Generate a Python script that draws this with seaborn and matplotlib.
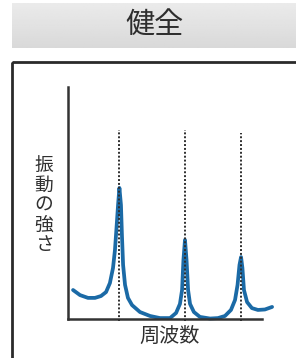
import numpy as np
import pandas as pd
import matplotlib.pyplot as plt
import seaborn as sns
from matplotlib.patches import Rectangle

# spectrum (frequency / vibration strength, arbitrary units 0-100)
freq = [2.6, 6.2, 10.3, 13.9, 17.0, 19.6, 21.6, 23.2, 24.2, 25.0, 25.8, 26.5,
        27.3, 27.8, 28.4, 29.4, 30.9, 33.0, 37.1, 42.3, 47.4, 52.6, 55.7, 57.7,
        58.8, 59.5, 60.3, 61.1, 61.9, 62.9, 64.9, 68.0, 73.2, 77.3, 80.9, 84.0,
        86.1, 87.4, 88.4, 89.2, 89.9, 90.7, 92.3, 94.8, 97.9, 101.5, 105.2]
amp = [12.5, 10.3, 9.1, 9.1, 9.9, 11.6, 15.5, 22.0, 29.7, 39.2, 49.1, 56.5,
       49.1, 36.2, 23.3, 14.7, 9.1, 6.0, 3.0, 1.3, 0.4, 0.4, 2.6, 6.5,
       12.5, 25.4, 34.1, 25.4, 12.5, 6.5, 3.0, 0.9, 0.2, 0.4, 1.3, 3.9,
       8.2, 14.7, 23.3, 26.7, 22.0, 12.5, 7.3, 4.7, 3.9, 4.1, 5.2]
peak_freq = [26.5, 60.3, 89.2]
peak_guide_top = [81.5, 81.5, 80.2]

title = "健全"
ylabel = "振動の強さ"
xlabel = "周波数"

df = pd.DataFrame({"freq": freq, "amp": amp})

sns.set_style("white")
plt.rcParams["font.family"] = ["Noto Sans CJK JP", "DejaVu Sans"]

W, H = 296, 358
fig = plt.figure(figsize=(W / 100, H / 100), dpi=100)

# background layer in pixel coordinates: title band and frame
bg = fig.add_axes([0, 0, 1, 1])
bg.set_xlim(0, W)
bg.set_ylim(H, 0)
bg.axis("off")
grad = np.linspace(0.92, 0.85, 50).reshape(-1, 1) * np.ones((1, 10))
bg.imshow(grad, cmap="gray", vmin=0, vmax=1, extent=[12, W, 48, 3], aspect="auto")
bg.add_patch(Rectangle((12, 62), 320, 330, fill=False, lw=2, ec="#2a2a2a"))
bg.text(155, 25, title, ha="center", va="center", fontsize=21, color="#2e2e2e")
bg.text(44, 205, "\n".join(ylabel), ha="center", va="center", fontsize=13.5,
        linespacing=0.93, color="#303030")
bg.text(170, 336, xlabel, ha="center", va="center", fontsize=14.5, color="#303030")

# chart
ax = fig.add_axes([68 / W, (H - 319) / H, 194 / W, 232 / H])
ax.patch.set_alpha(0)
sns.lineplot(data=df, x="freq", y="amp", sort=False, estimator=None,
             color="#1b6aa6", lw=2.7, ax=ax, clip_on=False,
             solid_joinstyle="round", solid_capstyle="round")
ax.vlines(peak_freq, -1, peak_guide_top, colors="#2e2e2e", linestyles=(0, (1, 1)),
          lw=1.4, clip_on=False, zorder=3)
ax.set_xlim(0, 100)
ax.set_ylim(0, 100)
ax.set_xticks([])
ax.set_yticks([])
ax.set_xlabel("")
ax.set_ylabel("")
for s in ["top", "right"]:
    ax.spines[s].set_visible(False)
for s in ["left", "bottom"]:
    ax.spines[s].set_linewidth(1.8)
    ax.spines[s].set_color("#333333")

fig.savefig("out.png", dpi=100)
